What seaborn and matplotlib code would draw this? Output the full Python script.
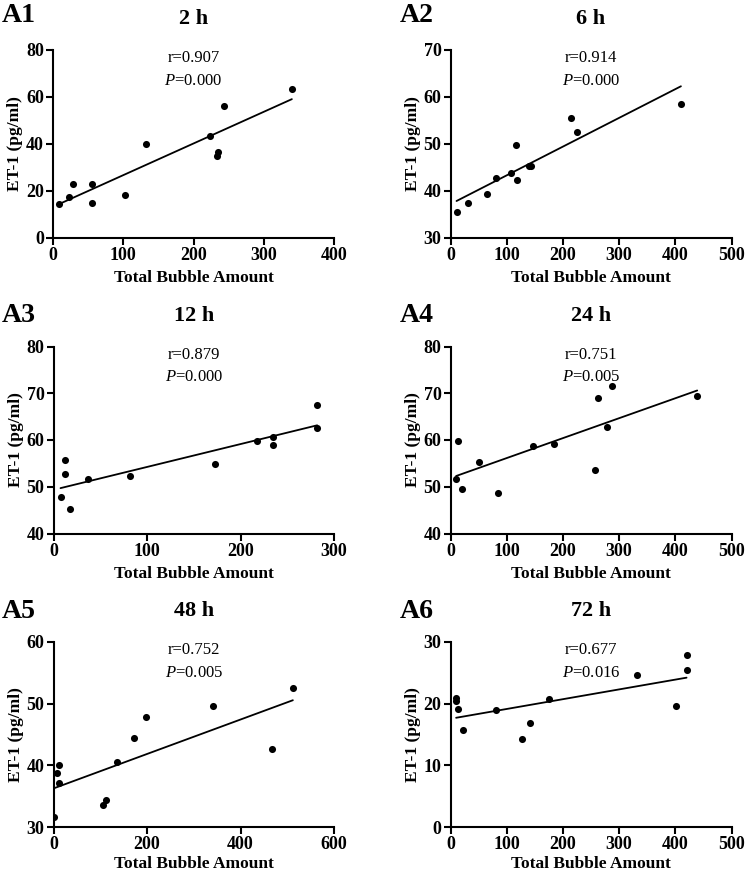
import matplotlib
matplotlib.use("Agg")
import matplotlib.pyplot as plt
import seaborn as sns
import numpy as np
import pandas as pd

# ---- data ----
labels = ["A1", "A2", "A3", "A4", "A5", "A6"]
titles = ["2 h", "6 h", "12 h", "24 h", "48 h", "72 h"]
r_texts = ["r=0.907", "r=0.914", "r=0.879", "r=0.751", "r=0.752", "r=0.677"]
p_texts = ["0.000", "0.000", "0.000", "0.005", "0.005", "0.016"]

x_a1 = [8, 23, 28, 56, 56, 103, 133, 223, 235, 233, 243, 340]
y_a1 = [14.3, 17.2, 22.8, 22.8, 14.8, 17.9, 39.9, 43.1, 36.5, 34.6, 56.0, 63.3]

x_a2 = [10.7, 30.8, 65.8, 80.7, 108.5, 115.7, 118, 140, 143, 215, 225, 410]
y_a2 = [35.5, 37.3, 39.3, 42.6, 43.7, 49.8, 42.2, 45.2, 45.3, 55.6, 52.6, 58.4]

x_a3 = [7.5, 12, 12, 17.4, 37.4, 82, 172.6, 217.4, 235, 235, 282, 282]
y_a3 = [47.8, 55.7, 52.8, 45.2, 51.7, 52.4, 54.8, 59.8, 60.7, 59.0, 67.5, 62.6]

x_a4 = [10, 13, 20.8, 50.4, 85.4, 146, 185, 258, 263, 278, 288, 439]
y_a4 = [51.7, 59.8, 49.6, 55.3, 48.7, 58.7, 59.1, 53.6, 69.0, 62.8, 71.6, 69.4]

x_a5 = [2, 7, 10.7, 12.8, 106.8, 112.5, 136.7, 172, 197, 342, 467, 512]
y_a5 = [31.7, 38.7, 40.0, 37.1, 33.5, 34.3, 40.5, 44.5, 47.8, 49.7, 42.7, 52.6]

x_a6 = [10, 10, 13, 23, 80.7, 128, 140.6, 175, 331, 402, 420, 420]
y_a6 = [20.9, 20.5, 19.2, 15.7, 18.9, 14.2, 16.9, 20.8, 24.6, 19.7, 27.9, 25.5]

xs = [x_a1, x_a2, x_a3, x_a4, x_a5, x_a6]
ys = [y_a1, y_a2, y_a3, y_a4, y_a5, y_a6]

x_ticks = [[0, 100, 200, 300, 400], [0, 100, 200, 300, 400, 500], [0, 100, 200, 300],
           [0, 100, 200, 300, 400, 500], [0, 200, 400, 600], [0, 100, 200, 300, 400, 500]]
y_ticks = [[0, 20, 40, 60, 80], [30, 40, 50, 60, 70], [40, 50, 60, 70, 80],
           [40, 50, 60, 70, 80], [30, 40, 50, 60], [0, 10, 20, 30]]

# ---- style ----
sns.set_style("ticks")
plt.rcParams['font.family'] = ['Liberation Serif', 'DejaVu Serif']
plt.rcParams['mathtext.fontset'] = 'custom'
plt.rcParams['mathtext.rm'] = 'Liberation Serif'
plt.rcParams['mathtext.it'] = 'Liberation Serif:italic'
plt.rcParams['text.color'] = 'black'
plt.rcParams['axes.labelcolor'] = 'black'
plt.rcParams['xtick.color'] = 'black'
plt.rcParams['ytick.color'] = 'black'
plt.rcParams['axes.edgecolor'] = 'black'

W, H = 745, 877
fig = plt.figure(figsize=(W / 100, H / 100), dpi=100)

# axes boxes in pixels: (left, top, right, bottom)
boxes = [(53, 49.5, 334, 237.5), (450.5, 50, 731.5, 237.5),
         (53.5, 346.5, 334, 533.5), (450.5, 346.5, 731.5, 533.5),
         (53.5, 642, 334, 827), (450.5, 642, 731.5, 827)]
label_pos = [(2, 16), (400, 16), (2, 316), (400, 316), (2, 612), (400, 612)]
title_y = [19, 19, 316, 316, 611, 611]
xlabel_pad = [5, 5, 5, 5, 2.5, 2.5]

for i in range(6):
    l, t, r, b = boxes[i]
    ax = fig.add_axes([l / W, 1 - b / H, (r - l) / W, (b - t) / H])
    df = pd.DataFrame({"x": xs[i], "y": ys[i]})
    sns.regplot(data=df, x="x", y="y", ax=ax, ci=None, truncate=True,
                scatter_kws=dict(s=26, color="black", alpha=1, linewidths=0, zorder=3),
                line_kws=dict(color="black", lw=1.3, alpha=1))
    ax.set_xlim(x_ticks[i][0], x_ticks[i][-1])
    ax.set_ylim(y_ticks[i][0], y_ticks[i][-1])
    ax.set_xticks(x_ticks[i])
    ax.set_yticks(y_ticks[i])
    sns.despine(ax=ax)
    for sp in ["left", "bottom"]:
        ax.spines[sp].set_linewidth(1.5)
        ax.spines[sp].set_color("black")
    ax.tick_params(axis="both", direction="out", length=5, width=1.5, color="black",
                   labelcolor="black", labelsize=13, pad=1.5)
    for lab in ax.get_xticklabels() + ax.get_yticklabels():
        lab.set_fontweight("bold")
    ax.set_xlabel("Total Bubble Amount", fontsize=12.5, fontweight="bold",
                  labelpad=xlabel_pad[i], color="black")
    ax.set_ylabel("ET-1 (pg/ml)", fontsize=12.5, fontweight="bold", labelpad=2,
                  color="black")
    ax.text(0.5, 0.955, r_texts[i], transform=ax.transAxes, ha="center", va="center",
            fontsize=12, color="black")
    ax.text(0.5, 0.835, r"$\mathit{P}$=" + p_texts[i], transform=ax.transAxes,
            ha="center", va="center", fontsize=12, color="black")
    fig.text(label_pos[i][0] / W, 1 - label_pos[i][1] / H, labels[i], ha="left",
             va="center", fontsize=20, fontweight="bold", color="black")
    fig.text(((l + r) / 2) / W, 1 - title_y[i] / H, titles[i], ha="center",
             va="center", fontsize=16, fontweight="bold", color="black")

fig.savefig("out.png", dpi=100)
